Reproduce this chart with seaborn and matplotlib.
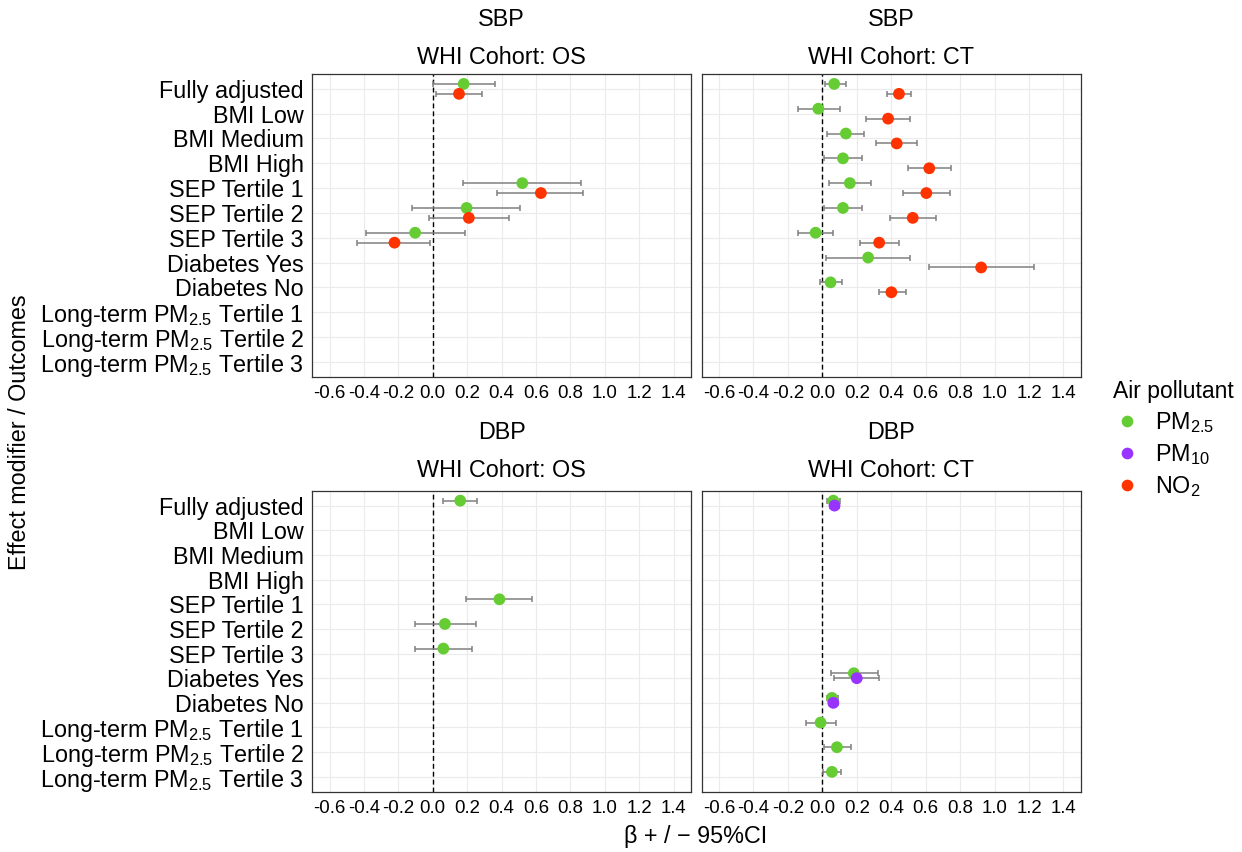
import numpy as np
import pandas as pd
import matplotlib
matplotlib.use("Agg")
import matplotlib.pyplot as plt
from matplotlib.lines import Line2D
import seaborn as sns

# ---------------- data ----------------
categories = ["Fully adjusted", "BMI Low", "BMI Medium", "BMI High",
              "SEP Tertile 1", "SEP Tertile 2", "SEP Tertile 3",
              "Diabetes Yes", "Diabetes No",
              "Long-term PM$_{2.5}$ Tertile 1", "Long-term PM$_{2.5}$ Tertile 2",
              "Long-term PM$_{2.5}$ Tertile 3"]
pollutants = ["PM2.5", "PM10", "NO2"]
pollutant_labels = ["PM$_{2.5}$", "PM$_{10}$", "NO$_{2}$"]
nan = np.nan

# SBP, WHI OS
os_sbp_pm25_est = [0.180, nan, nan, nan, 0.521, 0.197, -0.102, nan, nan, nan, nan, nan]
os_sbp_pm25_lo  = [0.000, nan, nan, nan, 0.174, -0.123, -0.390, nan, nan, nan, nan, nan]
os_sbp_pm25_hi  = [0.363, nan, nan, nan, 0.861, 0.505, 0.187, nan, nan, nan, nan, nan]
os_sbp_no2_est  = [0.153, nan, nan, nan, 0.629, 0.210, -0.222, nan, nan, nan, nan, nan]
os_sbp_no2_lo   = [0.021, nan, nan, nan, 0.376, -0.023, -0.440, nan, nan, nan, nan, nan]
os_sbp_no2_hi   = [0.288, nan, nan, nan, 0.874, 0.442, -0.013, nan, nan, nan, nan, nan]

# SBP, WHI CT
ct_sbp_pm25_est = [0.069, -0.023, 0.137, 0.120, 0.160, 0.120, -0.039, 0.266, 0.048, nan, nan, nan]
ct_sbp_pm25_lo  = [0.013, -0.139, 0.027, 0.012, 0.040, 0.012, -0.139, 0.019, -0.015, nan, nan, nan]
ct_sbp_pm25_hi  = [0.135, 0.100, 0.245, 0.230, 0.280, 0.230, 0.064, 0.511, 0.116, nan, nan, nan]
ct_sbp_no2_est  = [0.445, 0.382, 0.432, 0.621, 0.604, 0.525, 0.330, 0.922, 0.401, nan, nan, nan]
ct_sbp_no2_lo   = [0.374, 0.251, 0.309, 0.498, 0.467, 0.393, 0.216, 0.619, 0.332, nan, nan, nan]
ct_sbp_no2_hi   = [0.517, 0.511, 0.548, 0.750, 0.743, 0.658, 0.447, 1.227, 0.484, nan, nan, nan]

# DBP, WHI OS
os_dbp_pm25_est = [0.160, nan, nan, nan, 0.388, 0.071, 0.062, nan, nan, nan, nan, nan]
os_dbp_pm25_lo  = [0.058, nan, nan, nan, 0.191, -0.104, -0.104, nan, nan, nan, nan, nan]
os_dbp_pm25_hi  = [0.260, nan, nan, nan, 0.579, 0.253, 0.231, nan, nan, nan, nan, nan]

# DBP, WHI CT
ct_dbp_pm25_est = [0.064, nan, nan, nan, nan, nan, nan, 0.183, 0.056, -0.010, 0.085, 0.056]
ct_dbp_pm25_lo  = [0.029, nan, nan, nan, nan, nan, nan, 0.048, 0.025, -0.096, 0.012, 0.006]
ct_dbp_pm25_hi  = [0.100, nan, nan, nan, nan, nan, nan, 0.324, 0.093, 0.079, 0.166, 0.108]
ct_dbp_pm10_est = [0.071, nan, nan, nan, nan, nan, nan, 0.200, 0.064, nan, nan, nan]
ct_dbp_pm10_lo  = [0.045, nan, nan, nan, nan, nan, nan, 0.068, 0.038, nan, nan, nan]
ct_dbp_pm10_hi  = [0.097, nan, nan, nan, nan, nan, nan, 0.332, 0.090, nan, nan, nan]

x_ticks = [-0.6, -0.4, -0.2, 0.0, 0.2, 0.4, 0.6, 0.8, 1.0, 1.2, 1.4]

series = [
    ("SBP", "OS", "PM2.5", os_sbp_pm25_est, os_sbp_pm25_lo, os_sbp_pm25_hi),
    ("SBP", "OS", "NO2", os_sbp_no2_est, os_sbp_no2_lo, os_sbp_no2_hi),
    ("SBP", "CT", "PM2.5", ct_sbp_pm25_est, ct_sbp_pm25_lo, ct_sbp_pm25_hi),
    ("SBP", "CT", "NO2", ct_sbp_no2_est, ct_sbp_no2_lo, ct_sbp_no2_hi),
    ("DBP", "OS", "PM2.5", os_dbp_pm25_est, os_dbp_pm25_lo, os_dbp_pm25_hi),
    ("DBP", "CT", "PM2.5", ct_dbp_pm25_est, ct_dbp_pm25_lo, ct_dbp_pm25_hi),
    ("DBP", "CT", "PM10", ct_dbp_pm10_est, ct_dbp_pm10_lo, ct_dbp_pm10_hi),
]
rows = []
for outc, coh, pol, est, lo, hi in series:
    for cat, e, l, h in zip(categories, est, lo, hi):
        if not np.isnan(e):
            rows.append(dict(outcome=outc, cohort=coh, pollutant=pol,
                             category=cat, est=e, lo=l, hi=h))
df = pd.DataFrame(rows)

palette = {"PM2.5": "#66CC33", "PM10": "#9933FF", "NO2": "#FF3300"}
dodge = {"PM2.5": -0.2, "PM10": 0.0, "NO2": 0.2}
df["ypos"] = df["category"].map({c: i for i, c in enumerate(categories)}) + df["pollutant"].map(dodge)

# ---------------- style ----------------
sns.set_style("white")
plt.rcParams["font.family"] = ["Liberation Sans", "DejaVu Sans"]
plt.rcParams["mathtext.fontset"] = "custom"
plt.rcParams["mathtext.rm"] = "Liberation Sans"
plt.rcParams["mathtext.it"] = "Liberation Sans:italic"
plt.rcParams["mathtext.default"] = "regular"
plt.rcParams["text.color"] = "black"
plt.rcParams["axes.labelcolor"] = "black"
plt.rcParams["xtick.color"] = "#333333"
plt.rcParams["ytick.color"] = "#333333"
plt.rcParams["xtick.labelcolor"] = "black"
plt.rcParams["ytick.labelcolor"] = "black"

W, H = 1242, 852
fig = plt.figure(figsize=(W / 100, H / 100), dpi=100)


def px_axes(x0, y0, x1, y1):
    return fig.add_axes([x0 / W, 1 - y1 / H, (x1 - x0) / W, (y1 - y0) / H])


panels = {
    ("SBP", "OS"): px_axes(312.3, 74.0, 690.7, 376.6),
    ("SBP", "CT"): px_axes(701.7, 74.0, 1080.7, 376.6),
    ("DBP", "OS"): px_axes(312.3, 490.8, 690.7, 791.6),
    ("DBP", "CT"): px_axes(701.7, 490.8, 1080.7, 791.6),
}

for (outc, coh), ax in panels.items():
    sub = df[(df.outcome == outc) & (df.cohort == coh)]
    ax.set_xlim(-0.7, 1.5)
    ax.set_ylim(len(categories) - 1 + 0.6, -0.6)
    ax.set_xticks(x_ticks)
    ax.set_xticklabels([f"{t:.1f}" for t in x_ticks], fontsize=13.4, color="black")
    ax.set_yticks(range(len(categories)))
    if coh == "OS":
        ax.set_yticklabels(categories, fontsize=16.8, color="black")
    else:
        ax.set_yticklabels([])
        ax.tick_params(axis="y", length=0)
    ax.grid(True, color="#EBEBEB", linewidth=0.8, zorder=0)
    ax.set_axisbelow(True)
    for s in ax.spines.values():
        s.set_color("#333333")
        s.set_linewidth(0.9)
    ax.tick_params(axis="both", direction="out", length=3, width=0.8, pad=3)
    if coh == "OS":
        ax.tick_params(axis="y", length=3)
    else:
        ax.tick_params(axis="y", length=0)
    ax.axvline(0, color="black", linewidth=1.0, linestyle=(0, (3.5, 2.2)), zorder=2)
    for pol in pollutants:
        d = sub[sub.pollutant == pol]
        if len(d) == 0:
            continue
        ax.errorbar(d["est"], d["ypos"], xerr=[d["est"] - d["lo"], d["hi"] - d["est"]],
                    fmt="none", ecolor="#808080", elinewidth=1.1, capsize=2.4,
                    capthick=1.1, zorder=3)
    sns.scatterplot(data=sub, x="est", y="ypos", hue="pollutant", palette=palette,
                    hue_order=[p for p in pollutants if p in set(sub.pollutant)],
                    s=72, linewidth=0, legend=False, ax=ax, zorder=4)
    ax.set_xlabel("")
    ax.set_ylabel("")
    cx = (ax.get_position().x0 + ax.get_position().x1) / 2
    if outc == "SBP":
        fig.text(cx, 1 - 19 / H, outc, ha="center", va="center", fontsize=16.8)
        fig.text(cx, 1 - 57 / H, f"WHI Cohort: {coh}", ha="center", va="center", fontsize=16.8)
    else:
        fig.text(cx, 1 - 433 / H, outc, ha="center", va="center", fontsize=16.8)
        fig.text(cx, 1 - 470.5 / H, f"WHI Cohort: {coh}", ha="center", va="center", fontsize=16.8)

fig.text(20 / W, 1 - 432 / H, "Effect modifier / Outcomes", rotation=90,
         ha="center", va="center", fontsize=16.8)
fig.text(696 / W, 1 - 837 / H, "β + / − 95%CI", ha="center", va="center", fontsize=16.8)

handles = [Line2D([0], [0], marker="o", linestyle="none", markersize=8.4,
                  markerfacecolor=palette[p], markeredgewidth=0) for p in pollutants]
leg = fig.legend(handles, pollutant_labels, title="Air pollutant",
                 loc="upper left", bbox_to_anchor=(1104 / W, 1 - 371 / H),
                 frameon=False, fontsize=16.8, title_fontsize=16.5,
                 handletextpad=0.6, labelspacing=0.3, handlelength=1.2,
                 borderaxespad=0)
leg._legend_box.align = "left"

fig.savefig("out.png", dpi=100)
